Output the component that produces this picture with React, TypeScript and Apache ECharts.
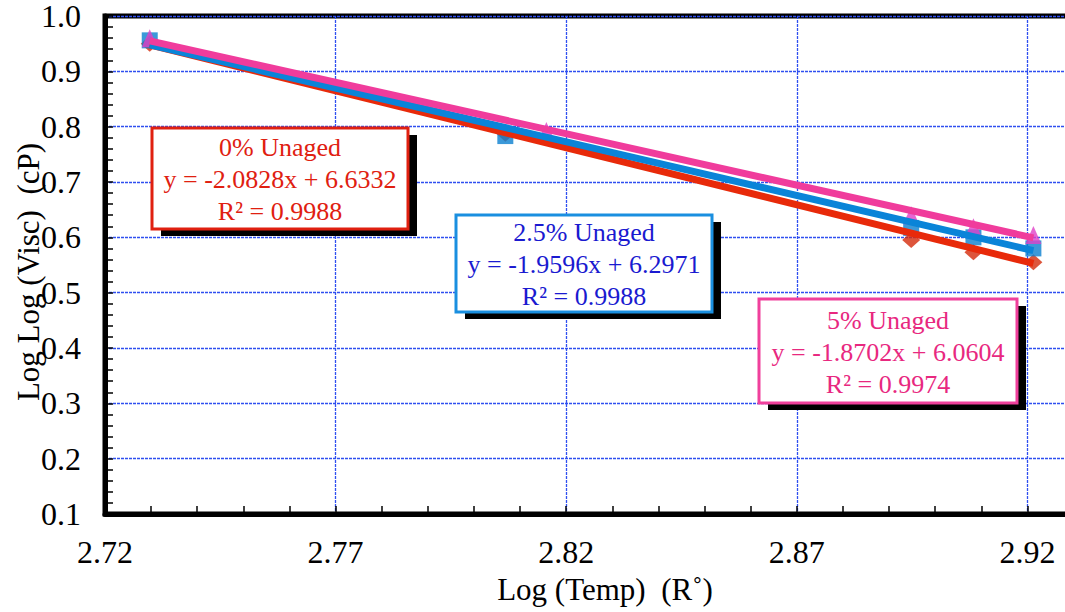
import React, { useEffect, useRef } from "react";
import * as echarts from "echarts";

// Log(Temp) values (x), per series
const X0 = 2.72;
const logTemp = [2.7297, 2.8068, 2.8948, 2.9083, 2.9213];
const logTempPink = [2.7297, 2.8157, 2.8948, 2.9083, 2.9213];

// Log Log (Visc) values (y)
const unaged0 = [0.95, 0.787, 0.595, 0.573, 0.555];
const unaged25 = [0.956, 0.783, 0.617, 0.6, 0.58];
const unaged5 = [0.96, 0.792, 0.64, 0.618, 0.604];

// Trendline endpoints
const trendX = [2.7297, 2.9213];
const trend0 = [0.948, 0.553];
const trend25 = [0.948, 0.576];
const trend5 = [0.955, 0.599];

const labels0 = ["0% Unaged", "y = -2.0828x + 6.6332", "R² = 0.9988"];
const labels25 = ["2.5% Unaged", "y = -1.9596x + 6.2971", "R² = 0.9988"];
const labels5 = ["5% Unaged", "y = -1.8702x + 6.0604", "R² = 0.9974"];

const FONT = '"Liberation Serif", "Times New Roman", serif';

const pairs = (xs: number[], ys: number[]) => xs.map((x, i) => [x - X0, ys[i]]);

function box(x: number, y: number, w: number, h: number, border: string, textColor: string, lines: string[]) {
  return {
    type: "group",
    z: 100,
    children: [
      { type: "rect", shape: { x: x + 9, y: y + 7, width: w, height: h }, style: { fill: "#000" }, z: 100 },
      { type: "rect", shape: { x, y, width: w, height: h }, style: { fill: "#fff", stroke: border, lineWidth: 3 }, z: 101 },
      {
        type: "text",
        x: x + w / 2,
        y: y + h / 2 + 1,
        z: 102,
        style: {
          text: lines.join("\n"),
          align: "center",
          verticalAlign: "middle",
          font: `26px ${FONT}`,
          lineHeight: 32,
          fill: textColor,
        },
      },
    ],
  };
}

export default function App() {
  const ref = useRef<HTMLDivElement>(null);
  useEffect(() => {
    if (!ref.current) return;
    const chart = echarts.init(ref.current, null, { renderer: "svg" });
    const gridColor = "#2f4ff0";
    chart.setOption({
      animation: false,
      backgroundColor: "#fff",
      grid: {
        left: 105,
        top: 16,
        bottom: 98,
        right: 5,
        show: true,
        borderColor: "#000",
        borderWidth: 5,
        backgroundColor: "#fff",
      },
      xAxis: {
        type: "value",
        min: 0,
        max: 0.25,
        interval: 0.05,
        axisLine: { show: true, lineStyle: { color: "#000", width: 5 } },
        axisTick: { show: true, inside: true, length: 8, lineStyle: { color: "#000", width: 1.5 } },
        minorTick: { show: true, splitNumber: 5, length: 8, lineStyle: { color: "#000", width: 1.5 } },
        axisLabel: {
          formatter: (v: number) => (v + X0).toFixed(2),
          fontSize: 32,
          fontFamily: FONT,
          color: "#000",
          margin: 22,
          showMaxLabel: false,
        },
        splitLine: { show: true, lineStyle: { color: gridColor, width: 1.3, type: [3, 1] } },
      },
      yAxis: {
        type: "value",
        min: 0.1,
        max: 1.0,
        interval: 0.1,
        axisLine: { show: true, lineStyle: { color: "#000", width: 5 } },
        axisTick: { show: true, inside: true, length: 8, lineStyle: { color: "#000", width: 1.5 } },
        minorTick: { show: true, splitNumber: 5, length: 8, lineStyle: { color: "#000", width: 1.5 } },
        axisLabel: {
          formatter: (v: number) => v.toFixed(1),
          fontSize: 32,
          lineHeight: 24,
          fontFamily: FONT,
          color: "#000",
          margin: 24,
          showMinLabel: true,
          showMaxLabel: true,
        },
        splitLine: { show: true, lineStyle: { color: gridColor, width: 1.3, type: [3, 1] } },
      },
      series: [
        {
          name: "0% Unaged",
          type: "scatter",
          data: pairs(logTemp, unaged0),
          symbol: "diamond",
          symbolSize: [18, 16],
          itemStyle: { color: "#d42a0a" },
          z: 2,
        },
        {
          name: "2.5% Unaged",
          type: "scatter",
          data: pairs(logTemp, unaged25),
          symbol: "rect",
          symbolSize: 16,
          itemStyle: { color: "#0a80d0" },
          z: 3,
        },
        {
          name: "5% Unaged",
          type: "scatter",
          data: pairs(logTempPink, unaged5),
          symbol: "triangle",
          symbolSize: [16, 18],
          itemStyle: { color: "#e040c8" },
          z: 4,
        },
        {
          name: "trend 0%",
          type: "line",
          data: pairs(trendX, trend0),
          showSymbol: false,
          lineStyle: { color: "#e82a0a", width: 7 },
          z: 5,
        },
        {
          name: "trend 2.5%",
          type: "line",
          data: pairs(trendX, trend25),
          showSymbol: false,
          lineStyle: { color: "#0a84d8", width: 7 },
          z: 6,
        },
        {
          name: "trend 5%",
          type: "line",
          data: pairs(trendX, trend5),
          showSymbol: false,
          lineStyle: { color: "#f03c9c", width: 7 },
          z: 7,
        },
      ],
      graphic: [
        box(152, 128, 256, 101, "#e02010", "#e02010", labels0),
        box(456, 215, 256, 97, "#1a8fe0", "#1a1ad0", labels25),
        box(759, 299, 258, 104, "#f0409c", "#e8287f", labels5),
        {
          type: "text",
          x: 28,
          y: 272,
          rotation: Math.PI / 2,
          z: 100,
          style: {
            text: "Log Log (Visc)  (cP)",
            align: "center",
            verticalAlign: "middle",
            font: `31px ${FONT}`,
            fill: "#000",
          },
        },
        {
          type: "text",
          x: 605,
          y: 589,
          z: 100,
          style: {
            text: "Log (Temp)  (R˚)",
            align: "center",
            verticalAlign: "middle",
            font: `31px ${FONT}`,
            fill: "#000",
          },
        },
      ],
    });
    return () => chart.dispose();
  }, []);
  return (
    <div style={{ position: "absolute", left: 0, top: 0, width: 1065, height: 612, overflow: "hidden" }}>
      <div ref={ref} style={{ width: 1263, height: 612 }} />
    </div>
  );
}
